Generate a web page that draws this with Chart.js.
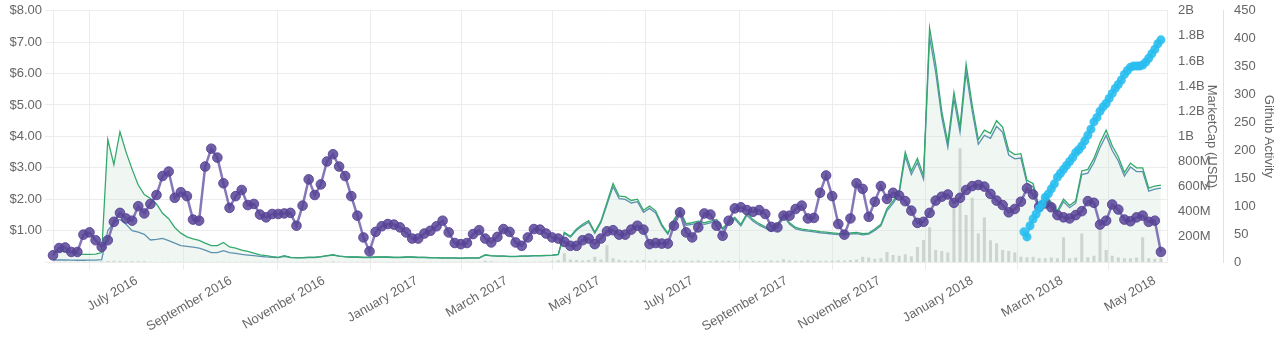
<!DOCTYPE html>
<html>
<head>
<meta charset="utf-8">
<script src="https://cdn.jsdelivr.net/npm/chart.js@4.4.1/dist/chart.umd.min.js"></script>
<style>
  html, body { margin: 0; padding: 0; background: #fff; }
  #wrap { width: 1280px; height: 340px; }
</style>
</head>
<body>
<div id="wrap"><canvas id="coinChart" width="1280" height="340"></canvas></div>
<script>
// samples every 4 days starting 7 May 2016
const startDate = Date.UTC(2016, 4, 7);
const stepDays = 4;

// price in USD
const price = [
  0.32, 0.35, 0.33, 0.3, 0.26, 0.24, 0.24, 0.25, 0.3, 3.9,
  3.1, 4.15, 3.5, 2.95, 2.45, 2.15, 2.02, 1.85, 1.55, 1.38,
  1.1, 0.92, 0.8, 0.74, 0.69, 0.6, 0.52, 0.52, 0.62, 0.48,
  0.44, 0.38, 0.34, 0.28, 0.23, 0.2, 0.17, 0.15, 0.2, 0.15,
  0.14, 0.14, 0.15, 0.15, 0.17, 0.2, 0.23, 0.19, 0.17, 0.16,
  0.16, 0.15, 0.15, 0.16, 0.16, 0.16, 0.15, 0.15, 0.16, 0.16,
  0.15, 0.15, 0.14, 0.14, 0.13, 0.13, 0.13, 0.12, 0.13, 0.13,
  0.13, 0.23, 0.2, 0.19, 0.19, 0.18, 0.18, 0.19, 0.19, 0.2,
  0.2, 0.21, 0.22, 0.24, 0.95, 0.82, 1.05, 1.2, 1.32, 0.95,
  1.3, 1.9, 2.5, 2.1, 2.08, 1.96, 2.0, 1.65, 1.78, 1.63,
  1.2, 0.92, 1.35, 1.66, 1.22, 1.25, 1.3, 1.25, 1.3, 1.35,
  1.08, 1.28, 1.42, 1.2, 1.55, 1.35, 1.22, 1.12, 1.02, 1.2,
  1.53, 1.25, 1.1, 1.05, 1.02, 1.0, 0.97, 0.95, 0.93, 0.91,
  0.9, 0.93, 0.94, 0.9, 0.92, 1.05, 1.2, 1.7, 1.94, 2.26,
  3.5, 2.9, 3.3, 2.75, 7.45, 6.3, 4.8, 3.8, 5.4, 4.3,
  6.3, 5.0, 3.9, 4.2, 4.1, 4.5, 4.3, 3.55, 3.42, 3.45,
  2.6, 2.5, 1.75, 2.15, 1.9, 1.63, 2.0, 1.8, 1.95, 2.9,
  2.95, 3.3, 3.8, 4.2, 3.7, 3.35, 2.85, 3.15, 3.0, 3.0,
  2.35, 2.42, 2.45
];

// market cap in millions of USD
const marketCap = [
  15, 16, 16, 15, 14, 14, 15, 15, 18, 250,
  312, 338, 300, 250, 238, 220, 175, 180, 188, 170,
  150, 130, 125, 118, 110, 95, 75, 75, 90, 75,
  68, 60, 55, 50, 45, 40, 38, 35, 45, 36,
  34, 34, 36, 36, 41, 48, 55, 46, 41, 38,
  38, 36, 36, 38, 38, 38, 36, 36, 38, 38,
  36, 36, 34, 34, 31, 31, 31, 29, 31, 31,
  31, 55, 48, 46, 46, 43, 43, 46, 46, 48,
  48, 50, 53, 58, 228, 197, 252, 288, 317, 228,
  312, 456, 600, 504, 499, 470, 480, 396, 427, 391,
  288, 221, 324, 398, 293, 300, 312, 300, 312, 324,
  259, 307, 341, 288, 372, 324, 293, 269, 245, 288,
  367, 300, 264, 252, 245, 240, 233, 228, 223, 218,
  216, 223, 226, 216, 221, 252, 288, 408, 466, 542,
  840, 696, 792, 660, 1788, 1512, 1152, 912, 1296, 1032,
  1512, 1200, 936, 1008, 984, 1080, 1032, 852, 821, 828,
  624, 600, 420, 516, 456, 391, 480, 432, 468, 696,
  708, 792, 912, 1008, 888, 804, 684, 756, 720, 720,
  564, 581, 588
];

// github activity
const activity = [
  12, 25, 26, 18, 18, 49, 53, 39, 27, 39,
  72, 88, 78, 74, 100, 87, 104, 120, 154, 162,
  115, 125, 118, 76, 74, 171, 203, 187, 141, 97,
  118, 129, 102, 104, 85, 80, 86, 86, 87, 88,
  65, 101, 148, 120, 139, 180, 193, 171, 154, 118,
  83, 44, 19, 54, 64, 68, 67, 62, 53, 42,
  42, 51, 56, 64, 74, 53, 34, 32, 34, 50,
  57, 42, 35, 45, 59, 54, 35, 29, 44, 59,
  58, 51, 44, 42, 36, 29, 29, 39, 42, 32,
  42, 55, 57, 49, 49, 58, 65, 58, 32, 34,
  33, 33, 65, 89, 53, 44, 62, 87, 85, 65,
  47, 74, 96, 98, 93, 90, 93, 86, 63, 62,
  83, 83, 95, 101, 78, 79, 124, 155, 118, 68,
  49, 78, 141, 131, 81, 108, 136, 113, 124, 119,
  109, 92, 70, 72, 88, 110, 117, 121, 106, 115,
  129, 136, 138, 135, 122, 110, 102, 89, 95, 108,
  132, 121, 99, 105, 98, 84, 80, 78, 84, 91,
  109, 106, 67, 74, 103, 94, 76, 73, 80, 83,
  72, 74, 18
];

// trading volume in millions of USD
const volume = [
  1, 1, 1, 1, 1, 1, 1, 1, 2, 3,
  4, 3, 2, 2, 2, 2, 1, 1, 1, 1,
  1, 1, 1, 1, 1, 1, 1, 1, 1, 1,
  1, 1, 1, 1, 1, 1, 1, 1, 1, 1,
  1, 1, 1, 1, 1, 1, 2, 1, 1, 1,
  1, 1, 1, 1, 1, 1, 1, 1, 1, 1,
  1, 1, 1, 1, 1, 1, 1, 1, 1, 1,
  1, 4, 2, 1, 1, 1, 1, 1, 1, 1,
  1, 1, 2, 5, 28, 8, 6, 5, 6, 17,
  8, 53, 12, 7, 5, 4, 5, 6, 4, 5,
  4, 5, 4, 5, 4, 4, 5, 4, 3, 4,
  4, 4, 3, 4, 4, 3, 4, 4, 5, 4,
  9, 5, 4, 4, 5, 4, 4, 4, 4, 5,
  5, 6, 8, 17, 14, 10, 12, 32, 22, 20,
  25, 18, 48, 70, 111, 38, 35, 30, 180, 362,
  150, 205, 91, 142, 69, 60, 38, 35, 30, 17,
  15, 17, 12, 12, 14, 12, 79, 12, 14, 91,
  15, 20, 100, 38, 20, 14, 12, 12, 14, 79,
  12, 10, 12
];

// second activity series, every 2 days from day 638
const recentStart = 638;
const recentStep = 2;
const recentActivity = [
  54, 45, 65, 77, 86, 96, 104, 116, 122, 131,
  140, 152, 159, 166, 173, 180, 187, 196, 201, 208,
  217, 227, 238, 251, 259, 270, 278, 284, 293, 302,
  311, 318, 326, 336, 343, 349, 351, 351, 351, 353,
  358, 365, 373, 381, 391, 398
];

const tickDates = ['2016-07-01', '2016-09-01', '2016-11-01', '2017-01-01', '2017-03-01', '2017-05-01',
  '2017-07-01', '2017-09-01', '2017-11-01', '2018-01-01', '2018-03-01', '2018-05-01'];
const tickLabels = ['July 2016', 'September 2016', 'November 2016', 'January 2017', 'March 2017', 'May 2017',
  'July 2017', 'September 2017', 'November 2017', 'January 2018', 'March 2018', 'May 2018'];

const tickDays = tickDates.map(d => (Date.parse(d) - startDate) / 864e5);
const series = (vals, start, step) => vals.map((v, i) => ({x: start + i * step, y: v}));

Chart.defaults.font.family = '"Liberation Sans", Arial, Helvetica, sans-serif';
Chart.defaults.font.size = 13;
Chart.defaults.color = '#666';

const gridColor = '#ececec';

const data = {
  datasets: [
    {
      label: 'Github Activity (recent)',
      data: series(recentActivity, recentStart, recentStep),
      yAxisID: 'yGithub',
      borderColor: 'rgba(41, 190, 240, 0.9)',
      borderWidth: 2,
      backgroundColor: 'rgba(41, 190, 240, 0.9)',
      pointRadius: 4.5,
      pointBorderWidth: 0,
      tension: 0,
      clip: false,
      order: 0
    },
    {
      label: 'Github Activity',
      data: series(activity, 0, stepDays),
      yAxisID: 'yGithub',
      borderColor: 'rgba(104, 86, 166, 0.8)',
      borderWidth: 2.5,
      backgroundColor: 'rgba(88, 68, 150, 0.85)',
      pointBorderColor: 'rgba(88, 68, 150, 0.9)',
      pointRadius: 4.8,
      pointBorderWidth: 1,
      tension: 0,
      clip: false,
      order: 1
    },
    {
      label: 'Price',
      data: series(price, 0, stepDays),
      yAxisID: 'yPrice',
      borderColor: '#33a96c',
      borderWidth: 1.3,
      backgroundColor: 'rgba(205, 228, 216, 0.3)',
      fill: 'origin',
      pointRadius: 0,
      tension: 0,
      order: 2
    },
    {
      label: 'MarketCap',
      data: series(marketCap, 0, stepDays),
      yAxisID: 'yCap',
      borderColor: '#2d6f9e',
      borderWidth: 1.3,
      pointRadius: 0,
      tension: 0,
      order: 3
    },
    {
      type: 'bar',
      label: 'Volume',
      data: series(volume, 0, stepDays),
      yAxisID: 'yVolume',
      backgroundColor: 'rgba(190, 190, 190, 0.75)',
      barPercentage: 0.5,
      categoryPercentage: 1,
      order: 4
    }
  ]
};

const config = {
  type: 'line',
  data: data,
  options: {
    responsive: false,
    animation: false,
    devicePixelRatio: 1,
    layout: { padding: 0 },
    plugins: {
      legend: { display: false },
      tooltip: { enabled: false }
    },
    scales: {
      x: {
        type: 'linear',
        min: 0,
        max: 732,
        offset: false,
        afterBuildTicks: axis => {
          axis.ticks = tickDays.map(v => ({value: v}));
        },
        afterFit: axis => { axis.height = 78; },
        grid: { color: gridColor, offset: true },
        border: { color: gridColor },
        ticks: {
          autoSkip: false,
          minRotation: 30,
          maxRotation: 30,
          callback: (value, index) => tickLabels[index]
        }
      },
      yPrice: {
        position: 'left',
        min: 0,
        max: 8,
        afterFit: axis => { axis.width = 53; },
        grid: { color: gridColor },
        border: { color: gridColor },
        ticks: {
          stepSize: 1,
          callback: v => v === 0 ? '' : '$' + v.toFixed(2)
        }
      },
      yCap: {
        position: 'right',
        min: 0,
        max: 2000,
        afterFit: axis => { axis.width = 56; },
        grid: { drawOnChartArea: false, color: gridColor, tickColor: 'transparent' },
        border: { color: gridColor },
        title: { display: true, text: 'MarketCap (USD)', color: '#666', padding: 4 },
        ticks: {
          stepSize: 200,
          callback: v => v === 0 ? '' : (v < 1000 ? v + 'M' : (v / 1000) + 'B')
        }
      },
      yGithub: {
        position: 'right',
        min: 0,
        max: 450,
        afterFit: axis => { axis.width = 57; },
        grid: { drawOnChartArea: false, color: gridColor, tickColor: 'transparent' },
        border: { color: '#e2e2e2' },
        title: { display: true, text: 'Github Activity', color: '#666', padding: 4 },
        ticks: { stepSize: 50 }
      },
      yVolume: {
        display: false,
        min: 0,
        max: 800
      }
    }
  }
};

new Chart(document.getElementById('coinChart'), config);
</script>
</body>
</html>
